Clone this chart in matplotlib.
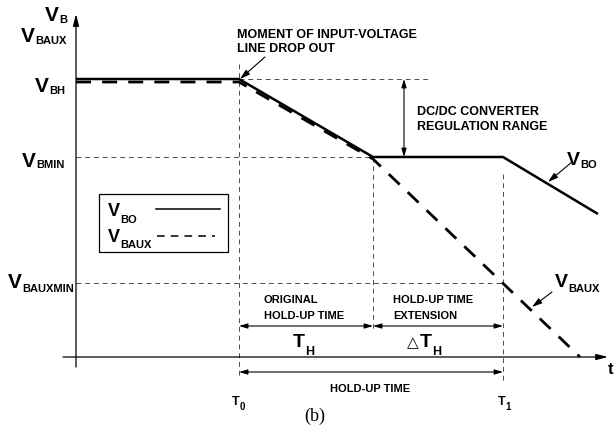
import matplotlib
matplotlib.use('Agg')
import matplotlib.pyplot as plt
from matplotlib.patches import Rectangle

plt.rcParams['font.family'] = ['Liberation Sans', 'DejaVu Sans']

# time marks (arbitrary units along t axis)
t_drop = 163      # T0: input voltage drops out
t_reg = 297       # VBO reaches VBMIN
t_end = 427       # T1: end of hold-up time

# voltage levels
v_bh = 278
v_bmin = 200
v_bauxmin = 74

# output bus voltage VBO
vbo_t = [0, t_drop, t_reg, t_end, 522]
vbo_v = [v_bh, v_bh, v_bmin, v_bmin, 143]

# auxiliary bus voltage VBAUX
vaux_t = [0, t_drop, t_reg, 504]
vaux_v = [275, 275, 198, 0]

fig = plt.figure(figsize=(6.15, 4.39), dpi=100)
ax = fig.add_axes([0, 0, 1, 1])
ax.set_xlim(-76, 539)
ax.set_ylim(-81, 358)
ax.axis('off')

guide = dict(color='0.3', lw=0.7, dashes=(5, 4))
dim = dict(arrowstyle='<|-|>,head_length=0.5,head_width=0.15', mutation_scale=10,
           lw=0.8, color='k', shrinkA=0, shrinkB=0)
ptr = dict(arrowstyle='-|>,head_length=0.6,head_width=0.18', mutation_scale=10,
           lw=0.8, color='k', shrinkA=0, shrinkB=0)


def sub_label(x, y, main, sub, size=15, sub_size=8, drop=1.5, **kw):
    t = ax.text(x, y, main, fontsize=size, fontweight='bold', ha='left', va='baseline', **kw)
    ax.annotate(sub, xy=(1, 0), xycoords=t, xytext=(0, 0.21 * size - drop),
                textcoords='offset points', fontsize=sub_size, fontweight='bold',
                ha='left', va='baseline')


def lines_of_text(x, y, lines, step, **kw):
    for i, s in enumerate(lines):
        ax.text(x, y - i * step, s, **kw)


# axes with arrow heads
ax.annotate('', xy=(0, 343), xytext=(0, -10),
            arrowprops=dict(arrowstyle='-|>,head_length=0.7,head_width=0.18',
                            mutation_scale=10, lw=0.9, color='k', shrinkA=0, shrinkB=0))
ax.annotate('', xy=(532, 0), xytext=(-13, 0),
            arrowprops=dict(arrowstyle='-|>,head_length=0.7,head_width=0.18',
                            mutation_scale=10, lw=0.9, color='k', shrinkA=0, shrinkB=0))

# dashed guide lines
ax.plot([t_drop, t_drop], [293, -20], **guide)
ax.plot([t_reg, t_reg], [v_bmin, 26], **guide)
ax.plot([t_end, t_end], [183, -24], **guide)
ax.plot([t_drop, 354], [v_bh, v_bh], **guide)
ax.plot([0, t_reg], [v_bmin, v_bmin], **guide)
ax.plot([0, t_end], [v_bauxmin, v_bauxmin], **guide)

# the two bus voltages
ax.plot(vbo_t, vbo_v, color='k', lw=1.8, solid_capstyle='butt')
ax.plot(vaux_t, vaux_v, color='k', lw=2.0, dashes=(5.4, 4.0), dash_capstyle='butt')

# dimension arrows
ax.annotate('', xy=(328, v_bh), xytext=(328, v_bmin), arrowprops=dim)
ax.annotate('', xy=(t_drop, 31), xytext=(t_reg, 31), arrowprops=dim)
ax.annotate('', xy=(t_reg, 31), xytext=(t_end, 31), arrowprops=dim)
ax.annotate('', xy=(t_drop, -15), xytext=(t_end, -15), arrowprops=dim)

# pointers
ax.annotate('', xy=(164, 278), xytext=(189, 300), arrowprops=ptr)
ax.annotate('', xy=(472, 175), xytext=(496, 195), arrowprops=ptr)
ax.annotate('', xy=(456, 50), xytext=(476, 65), arrowprops=ptr)

# y-axis labels
sub_label(-31, 337, 'V', 'B', drop=2)
sub_label(-55, 316, 'V', 'BAUX', drop=2)
sub_label(-41, 266, 'V', 'BH', drop=2)
sub_label(-54, 191, 'V', 'BMIN', drop=1)
sub_label(-68, 70, 'V', 'BAUXMIN', drop=3)

# legend
ax.add_patch(Rectangle((23, 105), 129, 58, fill=False, ec='k', lw=0.9))
sub_label(32, 142, 'V', 'BO', size=13, drop=5)
sub_label(32, 116, 'V', 'BAUX', size=13, drop=4)
ax.plot([80, 144], [148, 148], color='k', lw=1.1)
ax.plot([81, 139], [121, 121], color='k', lw=1.1, dashes=(5, 4))

# annotations
txt = dict(fontsize=9, fontweight='bold', ha='left', va='baseline')
lines_of_text(161, 320, ['MOMENT OF INPUT-VOLTAGE', 'LINE DROP OUT'], 14, **txt)
lines_of_text(341, 243, ['DC/DC CONVERTER', 'REGULATION RANGE'], 15, **txt)
small = dict(fontsize=8, fontweight='bold', ha='left', va='baseline')
lines_of_text(188, 55, ['ORIGINAL', 'HOLD-UP TIME'], 16, **small)
lines_of_text(317, 55, ['HOLD-UP TIME', 'EXTENSION'], 16, **small)
ax.text(294, -34, 'HOLD-UP TIME', fontsize=8, fontweight='bold', ha='center', va='baseline')

sub_label(217, 11, 'T', 'H', size=14, sub_size=9, drop=6)
ax.text(331, 11, '\u25b3', fontsize=11, family='DejaVu Sans', ha='left', va='baseline')
sub_label(344, 11, 'T', 'H', size=14, sub_size=9, drop=6)

sub_label(156, -47, 'T', '0', size=9, sub_size=7, drop=3)
sub_label(422, -47, 'T', '1', size=9, sub_size=7, drop=3)
ax.text(532, -16, 't', fontsize=12, fontweight='bold', ha='left', va='baseline')

sub_label(491, 193, 'V', 'BO', size=14, drop=2.5)
sub_label(479, 71, 'V', 'BAUX', size=14, drop=3.5)

ax.text(239, -63, '(b)', fontsize=13, family='Liberation Serif', ha='center', va='baseline')

fig.savefig('out.png', dpi=100, facecolor='white')
